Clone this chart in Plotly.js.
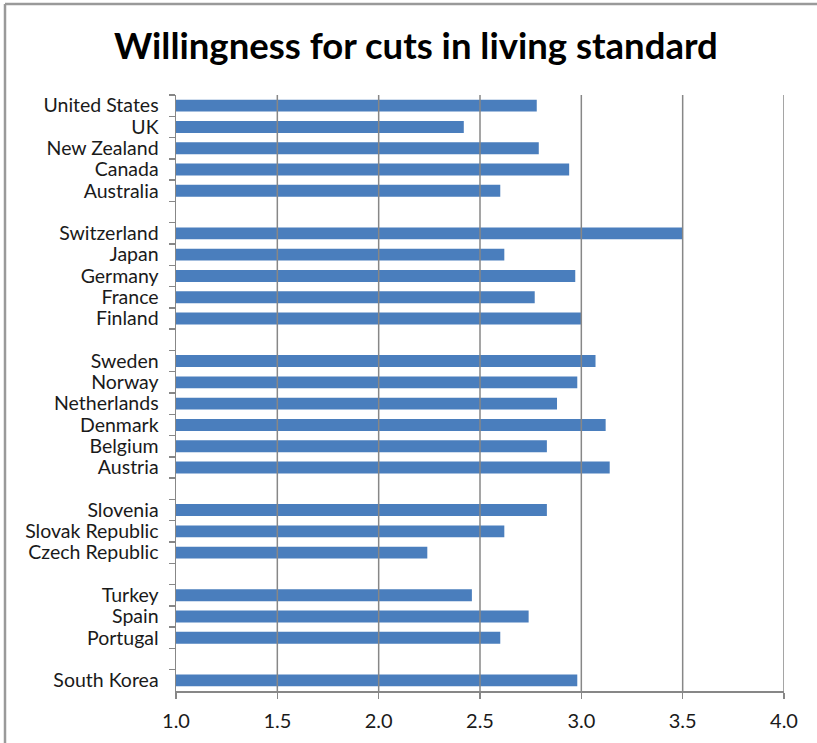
<!DOCTYPE html>
<html>
<head>
<meta charset="utf-8">
<script src="https://cdn.plot.ly/plotly-3.0.1.min.js"></script>
<style>
  html, body { margin: 0; padding: 0; background: #ffffff; }
  #chart { width: 817px; height: 743px; }
</style>
</head>
<body>
<div id="chart"></div>
<script>
// Categories top-to-bottom; blank entries are the gaps between country groups
const categories = [
  "United States", "UK", "New Zealand", "Canada", "Australia", " ",
  "Switzerland", "Japan", "Germany", "France", "Finland", "  ",
  "Sweden", "Norway", "Netherlands", "Denmark", "Belgium", "Austria", "   ",
  "Slovenia", "Slovak Republic", "Czech Republic", "    ",
  "Turkey", "Spain", "Portugal", "     ",
  "South Korea"
];
const values = [
  2.78, 2.42, 2.79, 2.94, 2.60, null,
  3.50, 2.62, 2.97, 2.77, 3.00, null,
  3.07, 2.98, 2.88, 3.12, 2.83, 3.14, null,
  2.83, 2.62, 2.24, null,
  2.46, 2.74, 2.60, null,
  2.98
];
const xTicks = [1.0, 1.5, 2.0, 2.5, 3.0, 3.5, 4.0];
const titleText = "Willingness for cuts in living standard";

const FONT = "Lato, 'Open Sans', sans-serif";
const GRID = "#878787";
const AXIS_MIN = 1;

const trace = {
  type: "bar",
  orientation: "h",
  y: categories,
  // bars start at the axis minimum (1.0): lengths measured from base
  x: values.map(v => v === null ? null : v - AXIS_MIN),
  base: AXIS_MIN,
  marker: { color: "#4a7ebd" },
  hoverinfo: "y+x"
};

// vertical gridlines drawn above the bars, as in the reference
const gridShapes = xTicks.slice(1).map(v => ({
  type: "line", xref: "x", yref: "paper", layer: "above",
  x0: v, x1: v, y0: 0, y1: 1,
  line: { color: GRID, width: 1.5 }
}));

const layout = {
  width: 817,
  height: 743,
  margin: { l: 176, r: 33, t: 95, b: 52 },
  paper_bgcolor: "#ffffff",
  plot_bgcolor: "#ffffff",
  font: { family: FONT, color: "#1a1a1a", size: 16 },
  bargap: 0.44,
  showlegend: false,
  title: {
    text: "<b>" + titleText + "</b>",
    font: { family: FONT, size: 36.5, color: "#000000" },
    xref: "container", x: 0.509, xanchor: "center",
    yref: "container", y: 1 - 46 / 743, yanchor: "middle"
  },
  xaxis: {
    range: [1, 4],
    tickvals: xTicks,
    ticktext: xTicks.map(v => v.toFixed(1)),
    showgrid: false,
    zeroline: false,
    showline: true,
    linecolor: GRID,
    linewidth: 1.5,
    ticks: "outside",
    ticklen: 6,
    tickwidth: 1.5,
    tickcolor: GRID,
    ticklabelstandoff: 5,
    tickfont: { family: FONT, size: 20, color: "#1a1a1a" },
    fixedrange: true
  },
  yaxis: {
    type: "category",
    categoryorder: "array",
    categoryarray: categories,
    range: [categories.length - 0.5, -0.5],
    tickmode: "linear",
    tick0: 0,
    dtick: 1,
    showgrid: false,
    zeroline: false,
    showline: true,
    linecolor: GRID,
    linewidth: 1.5,
    ticks: "outside",
    tickson: "boundaries",
    ticklen: 6,
    tickwidth: 1.5,
    tickcolor: GRID,
    ticklabelstandoff: 12,
    tickfont: { family: FONT, size: 19.5, color: "#1a1a1a" },
    fixedrange: true
  },
  shapes: gridShapes.concat([
    // outer frame of the chart image (only top and left edges visible)
    { type: "line", xref: "paper", yref: "paper",
      x0: (5 - 176) / 608, x1: (817 - 176) / 608,
      y0: (691 - 4) / 596, y1: (691 - 4) / 596,
      line: { color: "#9a9a9a", width: 2.5 } },
    { type: "line", xref: "paper", yref: "paper",
      x0: (5 - 176) / 608, x1: (5 - 176) / 608,
      y0: (691 - 4) / 596, y1: (691 - 743) / 596,
      line: { color: "#9a9a9a", width: 2.5 } }
  ])
};

Plotly.newPlot("chart", [trace], layout, { displayModeBar: false, staticPlot: true });
</script>
</body>
</html>
